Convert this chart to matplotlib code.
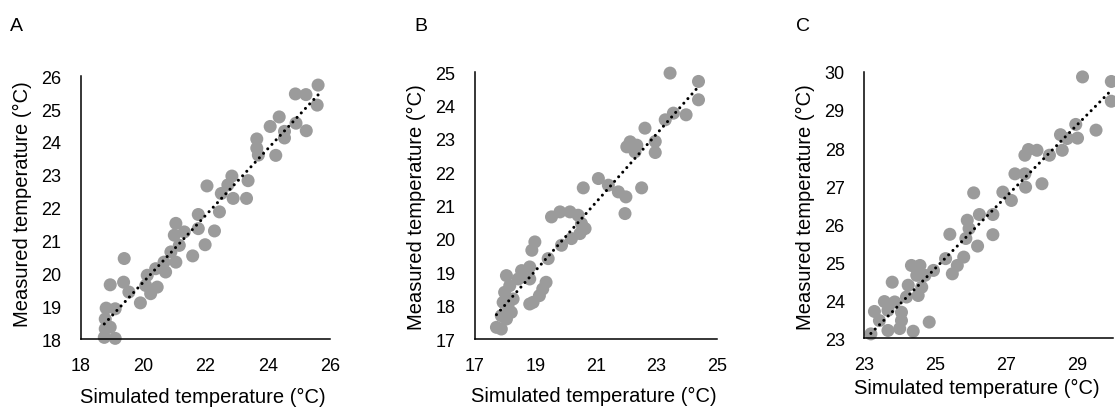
import numpy as np
import matplotlib
matplotlib.use("Agg")
import matplotlib.pyplot as plt
from matplotlib import font_manager

_names = {f.name for f in font_manager.fontManager.ttflist}
if 'Liberation Sans Narrow' in _names:
    plt.rcParams['font.family'] = ['Liberation Sans Narrow', 'DejaVu Sans']
    TICK_FS, LABEL_FS, PANEL_FS = 14.5, 17, 13
else:
    plt.rcParams['font.family'] = ['Liberation Sans', 'DejaVu Sans']
    TICK_FS, LABEL_FS, PANEL_FS = 13, 14.5, 14

# ---------------- data ----------------
sim_A = [24.89, 25.23, 25.62, 25.59, 25.24, 24.91, 24.37, 24.08, 24.54, 24.54, 24.26,
         23.65, 23.65, 23.70, 23.37, 23.32, 22.85, 22.72, 22.89, 22.51, 22.05, 22.45,
         22.29, 21.77, 21.99, 21.77, 21.59, 21.05, 21.00, 21.16, 21.32, 20.89, 21.05,
         20.67, 20.40, 20.72, 20.13, 20.45, 20.24, 19.91, 19.54, 19.37, 18.94, 19.39,
         18.81, 19.10, 18.78, 18.78, 18.75, 19.10, 18.94, 20.08]
meas_A = [25.46, 25.44, 25.73, 25.12, 24.34, 24.57, 24.76, 24.47, 24.32, 24.12, 23.59,
          24.09, 23.81, 23.60, 22.82, 22.28, 22.96, 22.69, 22.28, 22.43, 22.66, 21.87,
          21.29, 21.79, 20.87, 21.36, 20.53, 21.52, 21.16, 20.85, 21.26, 20.65, 20.34,
          20.34, 20.14, 20.04, 19.94, 19.58, 19.38, 19.10, 19.43, 19.73, 19.65, 20.45,
          18.94, 18.92, 18.61, 18.31, 18.05, 18.02, 18.36, 19.63]

sim_B = [23.45, 24.39, 24.39, 23.98, 23.56, 23.29, 22.62, 22.96, 22.96, 22.02, 22.13,
         22.35, 22.29, 22.51, 21.99, 21.96, 21.74, 21.41, 21.08, 20.58, 19.53, 19.81,
         20.14, 20.41, 20.52, 20.64, 20.47, 20.19, 19.86, 19.42, 18.98, 18.88, 18.81,
         18.81, 18.54, 18.43, 18.04, 18.15, 17.98, 18.26, 17.93, 18.20, 17.87, 17.71,
         17.87, 19.35, 19.24, 19.13, 18.92, 18.81, 18.04, 18.09]
meas_B = [24.97, 24.72, 24.17, 23.72, 23.77, 23.57, 23.32, 22.92, 22.59, 22.76, 22.91,
          22.81, 22.61, 21.53, 21.26, 20.76, 21.41, 21.61, 21.81, 21.53, 20.66, 20.81,
          20.81, 20.71, 20.46, 20.31, 20.16, 20.01, 19.81, 19.41, 19.91, 19.66, 19.16,
          18.80, 19.05, 18.80, 18.90, 18.60, 18.40, 18.20, 18.10, 17.80, 17.70, 17.35,
          17.30, 18.70, 18.50, 18.30, 18.10, 18.05, 17.60, 18.00]

sim_C = [29.14, 29.95, 29.95, 29.52, 28.95, 29.00, 28.71, 28.52, 28.57, 28.21, 28.00,
         27.86, 27.62, 27.52, 27.24, 27.52, 27.54, 26.90, 27.14, 26.62, 26.24, 26.08,
         25.90, 25.95, 25.86, 26.19, 26.62, 25.41, 25.29, 25.80, 25.62, 25.48, 24.95,
         24.71, 24.33, 24.57, 24.48, 24.62, 24.24, 24.52, 24.19, 23.79, 23.57, 23.86,
         23.29, 23.67, 24.05, 23.43, 24.05, 23.67, 24.00, 24.38, 24.83, 23.19]
meas_C = [29.87, 29.75, 29.23, 28.47, 28.62, 28.26, 28.25, 28.35, 27.94, 27.81, 27.06,
          27.94, 27.96, 27.81, 27.32, 27.32, 26.97, 26.84, 26.62, 26.25, 26.25, 26.82,
          26.10, 25.88, 25.62, 25.42, 25.72, 25.73, 25.09, 25.13, 24.91, 24.69, 24.78,
          24.65, 24.91, 24.91, 24.65, 24.34, 24.39, 24.12, 24.08, 24.47, 23.96, 23.95,
          23.70, 23.73, 23.68, 23.46, 23.46, 23.20, 23.25, 23.18, 23.42, 23.11]

panel_labels = ["A", "B", "C"]
x_ticks_A = [18, 20, 22, 24, 26]
y_ticks_A = [18, 19, 20, 21, 22, 23, 24, 25, 26]
x_ticks_B = [17, 19, 21, 23, 25]
y_ticks_B = [17, 18, 19, 20, 21, 22, 23, 24, 25]
x_ticks_C = [23, 25, 27, 29]
y_ticks_C = [23, 24, 25, 26, 27, 28, 29, 30]
lims_A = (18, 26)
lims_B = (17, 25)
lims_C = (23, 30)

xlabel = "Simulated temperature (°C)"
ylabel = "Measured temperature (°C)"

# ---------------- figure ----------------
fig = plt.figure(figsize=(11.15, 4.10), dpi=100)

panels = [
    (sim_A, meas_A, x_ticks_A, y_ticks_A, lims_A, [0.0726, 0.1707, 0.2233, 0.641]),
    (sim_B, meas_B, x_ticks_B, y_ticks_B, lims_B, [0.426, 0.1707, 0.217, 0.651]),
    (sim_C, meas_C, x_ticks_C, y_ticks_C, lims_C, [0.775, 0.173, 0.2233, 0.649]),
]
xlabel_pos = [(0.49, -0.217), (0.493, -0.213), (0.454, -0.184)]
ylabel_pos = [(-0.233, 0.517), (-0.24, 0.498), (-0.237, 0.496)]
label_x = [0.009, 0.372, 0.714]

for i, (xs, ys, xt, yt, lims, rect) in enumerate(panels):
    ax = fig.add_axes(rect)
    xs = np.asarray(xs)
    ys = np.asarray(ys)
    ax.scatter(xs, ys, s=88, color='#9b9b9b', edgecolors='none', zorder=2, clip_on=False)
    k, b = np.polyfit(xs, ys, 1)
    xl = np.array([xs.min(), xs.max()])
    ax.plot(xl, k * xl + b, color='black', lw=2.2,
            linestyle=(0, (0.01, 2.0)), dash_capstyle='round', zorder=3)
    ax.set_xlim(*lims)
    ax.set_ylim(*lims)
    ax.set_xticks(xt)
    ax.set_yticks(yt)
    ax.tick_params(length=0, labelsize=TICK_FS, colors='black')
    ax.tick_params(axis='x', pad=13)
    ax.tick_params(axis='y', pad=14)
    for s in ['top', 'right']:
        ax.spines[s].set_visible(False)
    for s in ['left', 'bottom']:
        ax.spines[s].set_linewidth(1.1)
        ax.spines[s].set_color('black')
    ax.set_xlabel(xlabel, fontsize=LABEL_FS, va='center')
    ax.set_ylabel(ylabel, fontsize=LABEL_FS, va='center')
    ax.xaxis.set_label_coords(*xlabel_pos[i])
    ax.yaxis.set_label_coords(*ylabel_pos[i])
    fig.text(label_x[i], 0.935, panel_labels[i], fontsize=PANEL_FS, ha='left', va='center')

fig.savefig("out.png", dpi=100)
